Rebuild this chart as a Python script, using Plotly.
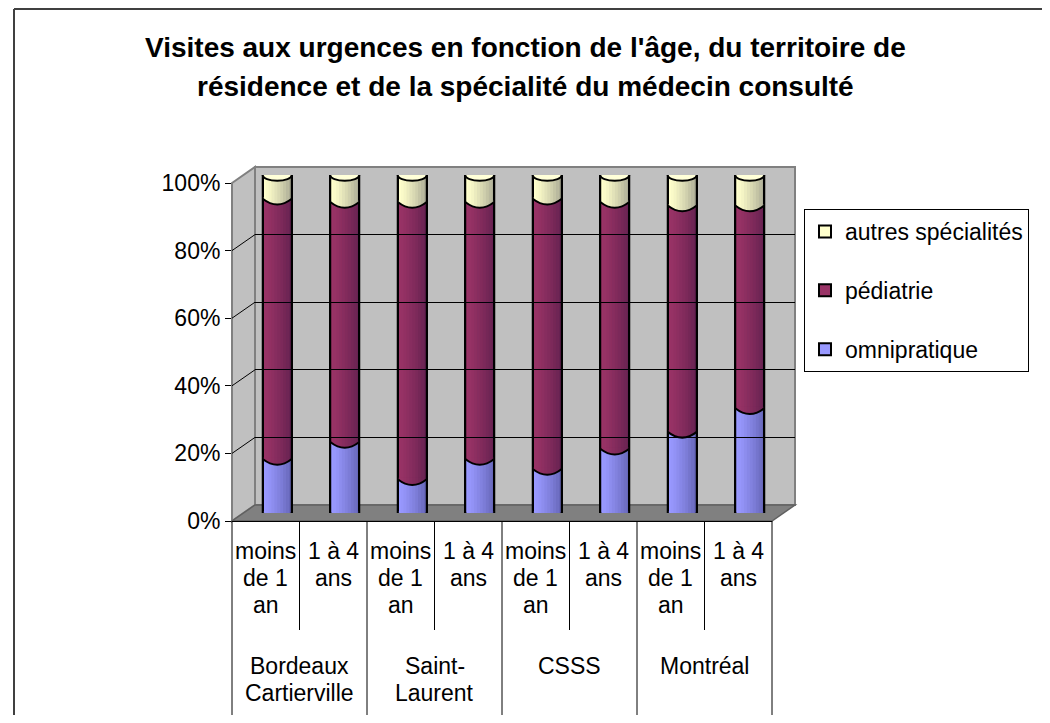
import plotly.graph_objects as go

# ---------------- data ----------------
territories = ["Bordeaux<br>Cartierville", "Saint-<br>Laurent", "CSSS", "Montréal"]
age_groups = ["moins<br>de 1<br>an", "1 à 4<br>ans"]
omnipratique = [16, 21, 10, 16, 13, 19, 24, 31]
pediatrie = [77, 71, 82, 76, 80, 73, 67, 60]
autres = [7, 8, 8, 8, 7, 8, 9, 9]
series_names = ["omnipratique", "pédiatrie", "autres spécialités"]
y_ticks = [0, 20, 40, 60, 80, 100]
y_tick_labels = ["0%", "20%", "40%", "60%", "80%", "100%"]
title_lines = ["Visites aux urgences en fonction de l'âge, du territoire de",
               "résidence et de la spécialité du médecin consulté"]

# ---------------- style ----------------
FONT = "Liberation Sans, Arial, sans-serif"
colors = ["#9999FF", "#993366", "#FFFFCC"]
cap_color = "#FFFFD8"
WALL = "#C0C0C0"
FLOOR = "#808080"
EDGE = "#808080"
LBL = 23

# page has an 8px body margin: figure sized to fit the visible area without scrolling
OFF = 8
W, H = 1050 - OFF, 723 - 2 * OFF
def PX(x): return (x - OFF) / W
def PY(y): return 1 - (y - OFF) / H

# front plane (screen pixels), depth offset
FX0, FX1, FY0, FY1 = 232, 772, 521, 183
DX, DY = 23, -16
BX0, BX1, BY0, BY1 = FX0 + DX, FX1 + DX, FY0 + DY, FY1 + DY
MX0, MX1, MY0, MY1 = FX0 + DX / 2, FX1 + DX / 2, FY0 + DY / 2, FY1 + DY / 2

outer = [t for t in territories for a in age_groups]
inner = [a for t in territories for a in age_groups]
n = len(inner)
xpos = list(range(n))

fig = go.Figure()

# invisible traces defining the front axes and the back-wall grid subplot
fig.add_trace(go.Scatter(x=xpos, y=[0] * n, mode="markers", marker=dict(opacity=0),
                         showlegend=False, hoverinfo="skip", xaxis="x", yaxis="y"))
fig.add_trace(go.Scatter(x=[0, 1], y=[0, 100], mode="markers", marker=dict(opacity=0),
                         showlegend=False, hoverinfo="skip", xaxis="x3", yaxis="y3"))

BW = 0.43
series = [omnipratique, pediatrie, autres]
for rank, (name, vals, col) in enumerate(zip(series_names, series, colors)):
    fig.add_trace(go.Bar(x=xpos, y=vals, name=name, width=BW,
                         marker=dict(color=col, line=dict(color="black", width=2)),
                         xaxis="x2", yaxis="y2", legendgroup=name,
                         legendrank=len(series_names) - rank, hoverinfo="skip"))

shapes = []
def pshape(path, fill="rgba(0,0,0,0)", lw=0, lc="black", xref="paper", yref="paper", layer="above"):
    shapes.append(dict(type="path", path=path, fillcolor=fill,
                       line=dict(width=lw, color=lc), xref=xref, yref=yref, layer=layer))

def ppath(pts):
    return "M " + " L ".join(f"{PX(x)},{PY(y)}" for x, y in pts) + " Z"

# outer chart border: only top and left edges are inside the view
shapes.append(dict(type="line", xref="paper", yref="paper", x0=PX(14), x1=1.0, y0=PY(9), y1=PY(9),
                   line=dict(color="#404040", width=2), layer="below"))
shapes.append(dict(type="line", xref="paper", yref="paper", x0=PX(14), x1=PX(14), y0=0.0, y1=PY(9),
                   line=dict(color="#404040", width=2), layer="below"))
# back wall, side wall, floor
pshape(ppath([(BX0, BY1), (BX1, BY1), (BX1, BY0), (BX0, BY0)]), fill=WALL, lw=2, lc=EDGE, layer="below")
pshape(ppath([(FX0, FY1), (BX0, BY1), (BX0, BY0), (FX0, FY0)]), fill=WALL, lw=2, lc=EDGE, layer="below")
pshape(ppath([(FX0, FY0), (FX1, FY0), (BX1, BY0), (BX0, BY0)]), fill=FLOOR, lw=1.5, lc="#606060", layer="below")
# side wall grid diagonals
for t in y_ticks[1:-1]:
    yf = FY0 + (FY1 - FY0) * t / 100
    yb = BY0 + (BY1 - BY0) * t / 100
    shapes.append(dict(type="line", xref="paper", yref="paper", x0=PX(FX0), y0=PY(yf),
                       x1=PX(BX0), y1=PY(yb), line=dict(color="black", width=1), layer="below"))

# category table lines below the axis
ng = len(age_groups)
for i in range(n + 1):
    bottom = 718 if i % ng == 0 else 630
    shapes.append(dict(type="line", xref="x domain", yref="paper", x0=i / n, x1=i / n,
                       y0=PY(FY0), y1=max(PY(bottom), 0.0), line=dict(color="black", width=1)))

# cylinder decoration derived from data
RY = 1.7
E = 0.45
NS = 10
def arc_y(x, xl, v):
    t = (x - xl) / BW
    return v - 4 * RY * t * (1 - t)

for i in xpos:
    xl, xr, xc = i - BW / 2, i + BW / 2, i
    v1 = omnipratique[i]
    v2 = omnipratique[i] + pediatrie[i]
    top = v2 + autres[i]
    pshape(f"M {xl},{E} L {xl},0 Q {xc},{-2*RY} {xr},0 L {xr},{E} Z", fill=colors[0], xref="x2", yref="y2")
    for v, col in ((v1, colors[1]), (v2, colors[2])):
        pshape(f"M {xl},{v+E} L {xl},{v} Q {xc},{v-2*RY} {xr},{v} L {xr},{v+E} Z", fill=col, xref="x2", yref="y2")
    for k in range(NS):
        xa = xl + k * BW / NS
        xb = xa + BW / NS
        a = 0.32 * (k / (NS - 1)) ** 1.3
        pshape(f"M {xa},{arc_y(xa, xl, 0)} L {xa},{top} L {xb},{top} L {xb},{arc_y(xb, xl, 0)} Z",
               fill=f"rgba(0,0,40,{a:.3f})", xref="x2", yref="y2")
    for v in (0, v1, v2):
        pshape(f"M {xl},{v} Q {xc},{v-2*RY} {xr},{v}", lw=2, xref="x2", yref="y2")
    for xs in (xl, xr):
        shapes.append(dict(type="line", xref="x2", yref="y2", x0=xs, x1=xs, y0=0, y1=top,
                           line=dict(color="black", width=2)))
    shapes.append(dict(type="circle", xref="x2", yref="y2", x0=xl, x1=xr, y0=top - RY, y1=top + RY,
                       fillcolor=cap_color, line=dict(color="black", width=2)))

annotations = []
for k, line in enumerate(title_lines):
    annotations.append(dict(text=f"<b>{line}</b>", x=PX(525), y=PY(48 + 39 * k), xref="paper", yref="paper",
                            showarrow=False, xanchor="center", yanchor="middle",
                            font=dict(size=28, family=FONT, color="black")))
# category labels (one annotation per text line)
LINE = 27
for i in xpos:
    for k, part in enumerate(inner[i].split("<br>")):
        annotations.append(dict(text=part, x=i, xref="x", y=PY(551 + LINE * k), yref="paper",
                                showarrow=False, xanchor="center", yanchor="middle",
                                font=dict(size=LBL, family=FONT, color="black")))
for g, terr in enumerate(territories):
    xc = g * ng + (ng - 1) / 2
    for k, part in enumerate(terr.split("<br>")):
        annotations.append(dict(text=part, x=xc, xref="x", y=PY(666 + LINE * k), yref="paper",
                                showarrow=False, xanchor="center", yanchor="middle",
                                font=dict(size=LBL, family=FONT, color="black")))

fig.update_layout(
    width=W, height=H,
    margin=dict(l=0, r=0, t=0, b=0, autoexpand=False),
    paper_bgcolor="white", plot_bgcolor="rgba(0,0,0,0)",
    font=dict(family=FONT, size=LBL, color="black"),
    barmode="stack",
    showlegend=True,
    legend=dict(x=PX(804), y=PY(209), xanchor="left", yanchor="top",
                bordercolor="black", borderwidth=1, bgcolor="white",
                font=dict(size=LBL, family=FONT, color="black"),
                traceorder="grouped", tracegroupgap=26, itemclick=False),
    xaxis=dict(domain=[PX(FX0), PX(FX1)], anchor="y",
               range=[-0.5, n - 0.5], showline=True, linecolor="black", linewidth=1,
               ticks="", showticklabels=False, showgrid=False, zeroline=False),
    yaxis=dict(domain=[PY(FY0), PY(FY1)], anchor="x", range=[0, 100],
               tickvals=y_ticks, ticktext=y_tick_labels, ticks="outside", ticklen=6, tickcolor="black",
               showline=False, showgrid=False, zeroline=False,
               tickfont=dict(size=LBL, family=FONT, color="black")),
    xaxis2=dict(domain=[PX(MX0), PX(MX1)], anchor="y2", range=[-0.5, n - 0.5], visible=False),
    yaxis2=dict(domain=[PY(MY0), PY(MY1)], anchor="x2", range=[0, 100], visible=False),
    xaxis3=dict(domain=[PX(BX0), PX(BX1)], anchor="y3", range=[0, 1], visible=False),
    yaxis3=dict(domain=[PY(BY0), PY(BY1)], anchor="x3", range=[0, 100], tickvals=y_ticks[1:-1],
                showgrid=True, gridcolor="black", gridwidth=1, showticklabels=False,
                ticks="", zeroline=False, showline=False),
    shapes=shapes,
    annotations=annotations,
)

fig.write_html("out.html")
